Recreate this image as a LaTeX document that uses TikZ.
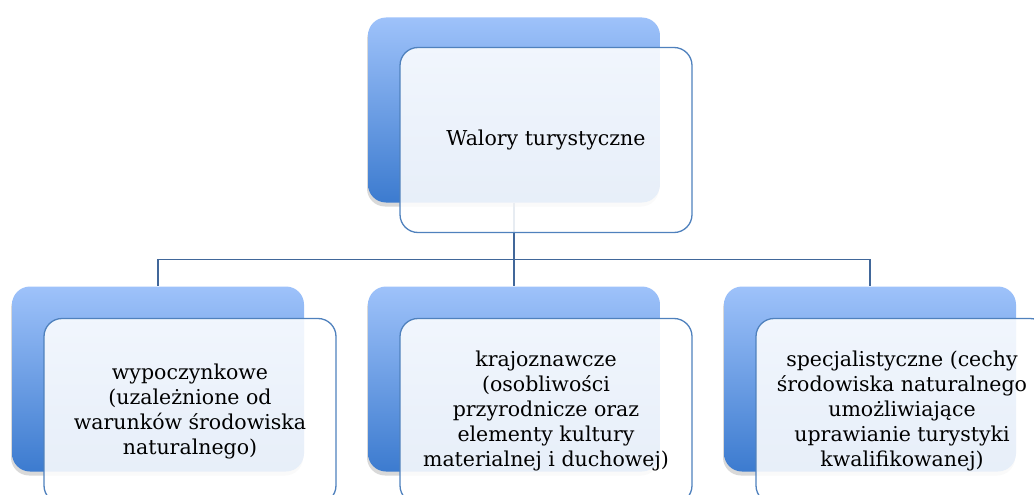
\documentclass[tikz,border=0pt]{standalone}
\usepackage{fontspec}
\setmainfont{DejaVu Serif}
\usetikzlibrary{positioning,shadows,backgrounds}

\definecolor{backtop}{RGB}{158,194,250}
\definecolor{backbot}{RGB}{60,123,207}
\definecolor{frameblue}{RGB}{79,129,189}
\definecolor{linkblue}{RGB}{65,103,154}

\begin{document}
\begin{tikzpicture}[
	x=1pt, y=-1pt,
	backbox/.style={
		rectangle, rounded corners=18pt,
		minimum width=292pt, minimum height=185pt,
		top color=backtop, bottom color=backbot,
		drop shadow={opacity=0.3, shadow xshift=-1pt, shadow yshift=-4pt}
	},
	frontbox/.style={
		rectangle, rounded corners=18pt,
		draw=frameblue, line width=1.3pt,
		fill=white, fill opacity=0.88, text opacity=1,
		minimum width=292pt, minimum height=185pt,
		align=center,
		font=\fontsize{20.5}{25}\selectfont
	},
	link/.style={draw=linkblue, line width=1.5pt}
]
\useasboundingbox (0,0) rectangle (1034,495);

% top level
\node[backbox] (topback) at (514,110) {};
\node[frontbox] (topfront) at ([shift={(32,30)}]topback.center) {Walory turystyczne};

% second level
\node[backbox] (leftback) at (158,379) {};
\node[frontbox] (leftfront) at ([shift={(32,32)}]leftback.center)
	{wypoczynkowe\\(uzależnione od\\warunków środowiska\\naturalnego)};

\node[backbox] (midback) at (514,379) {};
\node[frontbox] (midfront) at ([shift={(32,32)}]midback.center)
	{krajoznawcze\\(osobliwości\\przyrodnicze oraz\\elementy kultury\\materialnej i duchowej)};

\node[backbox] (rightback) at (870,379) {};
\node[frontbox] (rightfront) at ([shift={(32,32)}]rightback.center)
	{specjalistyczne (cechy\\środowiska naturalnego\\umożliwiające\\uprawianie turystyki\\kwalifikowanej)};

% connectors
\begin{scope}[on background layer]
\path (topback.south) -- ++(0,57) coordinate (fork);
\draw[link] (topback.south) -- (fork);
\draw[link] (fork) -| (leftback.north);
\draw[link] (fork) -| (rightback.north);
\draw[link] (fork) -- (midback.north);
\end{scope}
\end{tikzpicture}
\end{document}
